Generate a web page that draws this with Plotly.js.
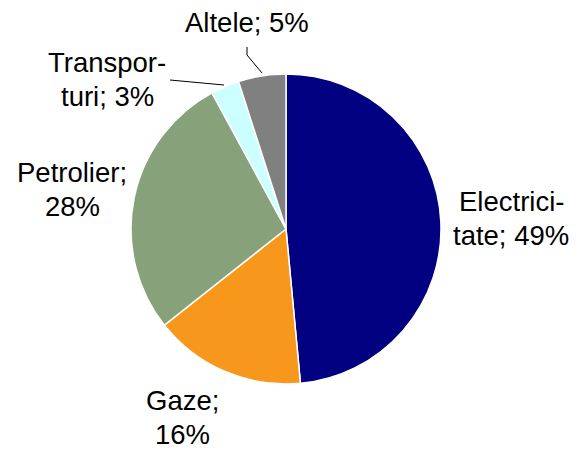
<!DOCTYPE html>
<html>
<head>
<meta charset="utf-8">
<script src="https://cdn.plot.ly/plotly-3.0.1.min.js"></script>
<style>
  html, body { margin: 0; padding: 0; background: #fff; }
  #chart { width: 576px; height: 449px; }
</style>
</head>
<body>
<div id="chart"></div>
<script>
const W = 576, H = 449;

const categories = ['Electricitate', 'Gaze', 'Petrolier', 'Transporturi', 'Altele'];
const shares = [49, 16, 28, 3, 5];
const labelLines = [['Electrici-', 'tate; 49%'], ['Gaze;', '16%'], ['Petrolier;', '28%'], ['Transpor-', 'turi; 3%'], ['Altele; 5%']];
const colors = ['#000080', '#F7981D', '#87A27A', '#CCFFFF', '#808080'];

// label anchor (centre x, first baseline y) in pixels, layout only
const labelPos = [[511, 211], [182, 410], [72, 182], [107, 73], [247, 33]];
const lineGap = 34;
const fontSize = 27.5;

const px = (x, y) => [x / W, 1 - y / H];

// pie circle: centre (286, 229), radius 155
const cx = 286, cy = 229, r = 155;

const trace = {
  type: 'pie',
  labels: categories,
  values: shares,
  sort: false,
  direction: 'clockwise',
  rotation: 0,
  textinfo: 'none',
  hoverinfo: 'label+percent',
  marker: { colors: colors, line: { color: '#ffffff', width: 1.5 } },
  domain: { x: [(cx - r) / W, (cx + r) / W], y: [1 - (cy + r) / H, 1 - (cy - r) / H] },
  showlegend: false
};

const annotations = [];
labelLines.forEach((lines, i) => {
  lines.forEach((t, j) => {
    const p = px(labelPos[i][0], labelPos[i][1] + j * lineGap - 10);
    annotations.push({
      text: t, x: p[0], y: p[1], xref: 'paper', yref: 'paper',
      showarrow: false, xanchor: 'center', yanchor: 'middle', align: 'center',
      font: { size: fontSize, color: '#000000' }
    });
  });
});

function path(points) {
  return points.map((pt, i) => {
    const p = px(pt[0], pt[1]);
    return (i ? 'L' : 'M') + p[0] + ',' + p[1];
  }).join(' ');
}

const leaders = [
  [[247, 47], [247, 55], [262, 73]],
  [[170, 80], [224, 85]]
];

const shapes = leaders.map(l => ({
  type: 'path', xref: 'paper', yref: 'paper', path: path(l),
  line: { color: '#000000', width: 1 }
}));

const layout = {
  width: W,
  height: H,
  margin: { l: 0, r: 0, t: 0, b: 0 },
  paper_bgcolor: '#ffffff',
  font: { family: 'Liberation Sans, Arial, sans-serif', size: fontSize, color: '#000' },
  annotations: annotations,
  shapes: shapes
};

Plotly.newPlot('chart', [trace], layout, { displayModeBar: false, staticPlot: true });
</script>
</body>
</html>
